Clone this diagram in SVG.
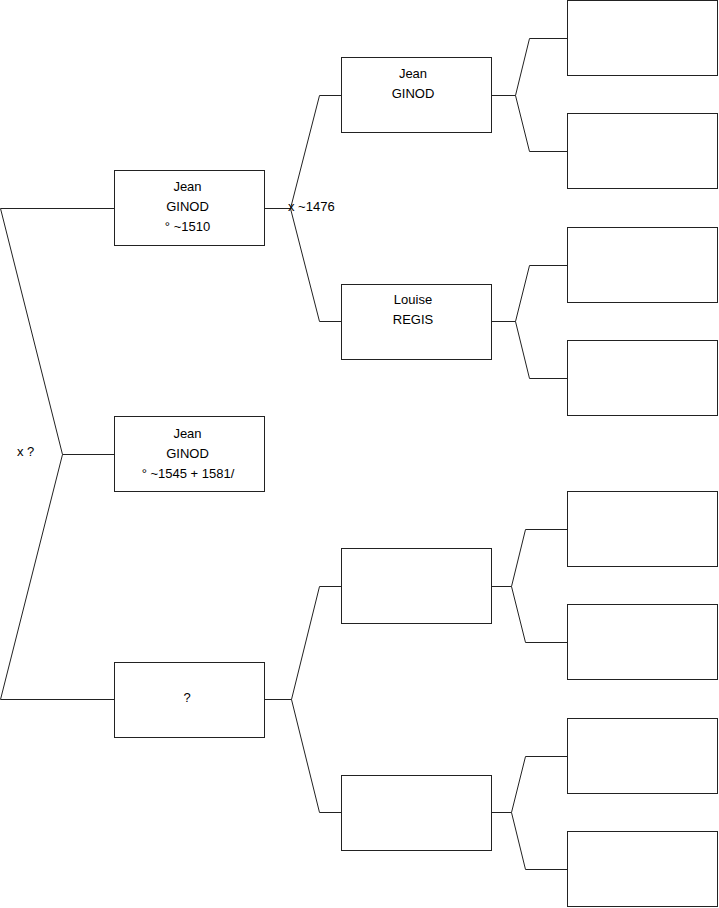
<svg xmlns="http://www.w3.org/2000/svg" width="719" height="908" viewBox="0 0 719 908">
<style>
.box{fill:#fff;stroke:#222;stroke-width:1}
.ln{fill:none;stroke:#222;stroke-width:1}
text{font-family:"Liberation Sans",Arial,sans-serif;font-size:13px;fill:#000}
.c{text-anchor:middle}
</style>
<rect width="719" height="908" fill="#fff"/>
<g id="connectors">
<polyline class="ln" points="114,208.5 0.5,208.5 62.5,454.5 114,454.5"/>
<polyline class="ln" points="62.5,454.5 0.5,699.5 114,699.5"/>
<polyline class="ln" points="265,208.5 290.5,208.5 319.5,95.5 341,95.5"/>
<polyline class="ln" points="290.5,208.5 319.5,321.5 341,321.5"/>
<polyline class="ln" points="265,699.5 291.5,699.5 319.5,586.5 341,586.5"/>
<polyline class="ln" points="291.5,699.5 319.5,812.5 341,812.5"/>
<polyline class="ln" points="491,95.5 515.5,95.5 529.5,38.5 567,38.5"/>
<polyline class="ln" points="515.5,95.5 529.5,151.5 567,151.5"/>
<polyline class="ln" points="491,321.5 515.5,321.5 529.5,265.5 567,265.5"/>
<polyline class="ln" points="515.5,321.5 529.5,378.5 567,378.5"/>
<polyline class="ln" points="491,586.5 511.5,586.5 525.5,529.5 567,529.5"/>
<polyline class="ln" points="511.5,586.5 525.5,642.5 567,642.5"/>
<polyline class="ln" points="491,812.5 511.5,812.5 525.5,756.5 567,756.5"/>
<polyline class="ln" points="511.5,812.5 525.5,869.5 567,869.5"/>
<text x="17" y="456">x ?</text>
<text x="288" y="211">x ~1476</text>
</g>
<g id="n1"><rect class="box" x="114.5" y="170.5" width="150" height="75"/>
<text class="c" x="187.5" y="191">Jean</text><text class="c" x="187.5" y="211">GINOD</text><text class="c" x="187.5" y="231">° ~1510</text></g>
<g id="n2"><rect class="box" x="114.5" y="416.5" width="150" height="75"/>
<text class="c" x="187.5" y="438">Jean</text><text class="c" x="187.5" y="458">GINOD</text><text class="c" x="188" y="478">° ~1545 + 1581/</text></g>
<g id="n3"><rect class="box" x="114.5" y="662.5" width="150" height="75"/>
<text class="c" x="187" y="702">?</text></g>
<g id="n4"><rect class="box" x="341.5" y="57.5" width="150" height="75"/>
<text class="c" x="413" y="78">Jean</text><text class="c" x="413" y="98">GINOD</text></g>
<g id="n5"><rect class="box" x="341.5" y="284.5" width="150" height="75"/>
<text class="c" x="413" y="304">Louise</text><text class="c" x="413" y="324">REGIS</text></g>
<g id="n6"><rect class="box" x="341.5" y="548.5" width="150" height="75"/></g>
<g id="n7"><rect class="box" x="341.5" y="775.5" width="150" height="75"/></g>
<g id="n8"><rect class="box" x="567.5" y="0.5" width="150" height="75"/></g>
<g id="n9"><rect class="box" x="567.5" y="113.5" width="150" height="75"/></g>
<g id="n10"><rect class="box" x="567.5" y="227.5" width="150" height="75"/></g>
<g id="n11"><rect class="box" x="567.5" y="340.5" width="150" height="75"/></g>
<g id="n12"><rect class="box" x="567.5" y="491.5" width="150" height="75"/></g>
<g id="n13"><rect class="box" x="567.5" y="604.5" width="150" height="75"/></g>
<g id="n14"><rect class="box" x="567.5" y="718.5" width="150" height="75"/></g>
<g id="n15"><rect class="box" x="567.5" y="831.5" width="150" height="75"/></g>
</svg>
